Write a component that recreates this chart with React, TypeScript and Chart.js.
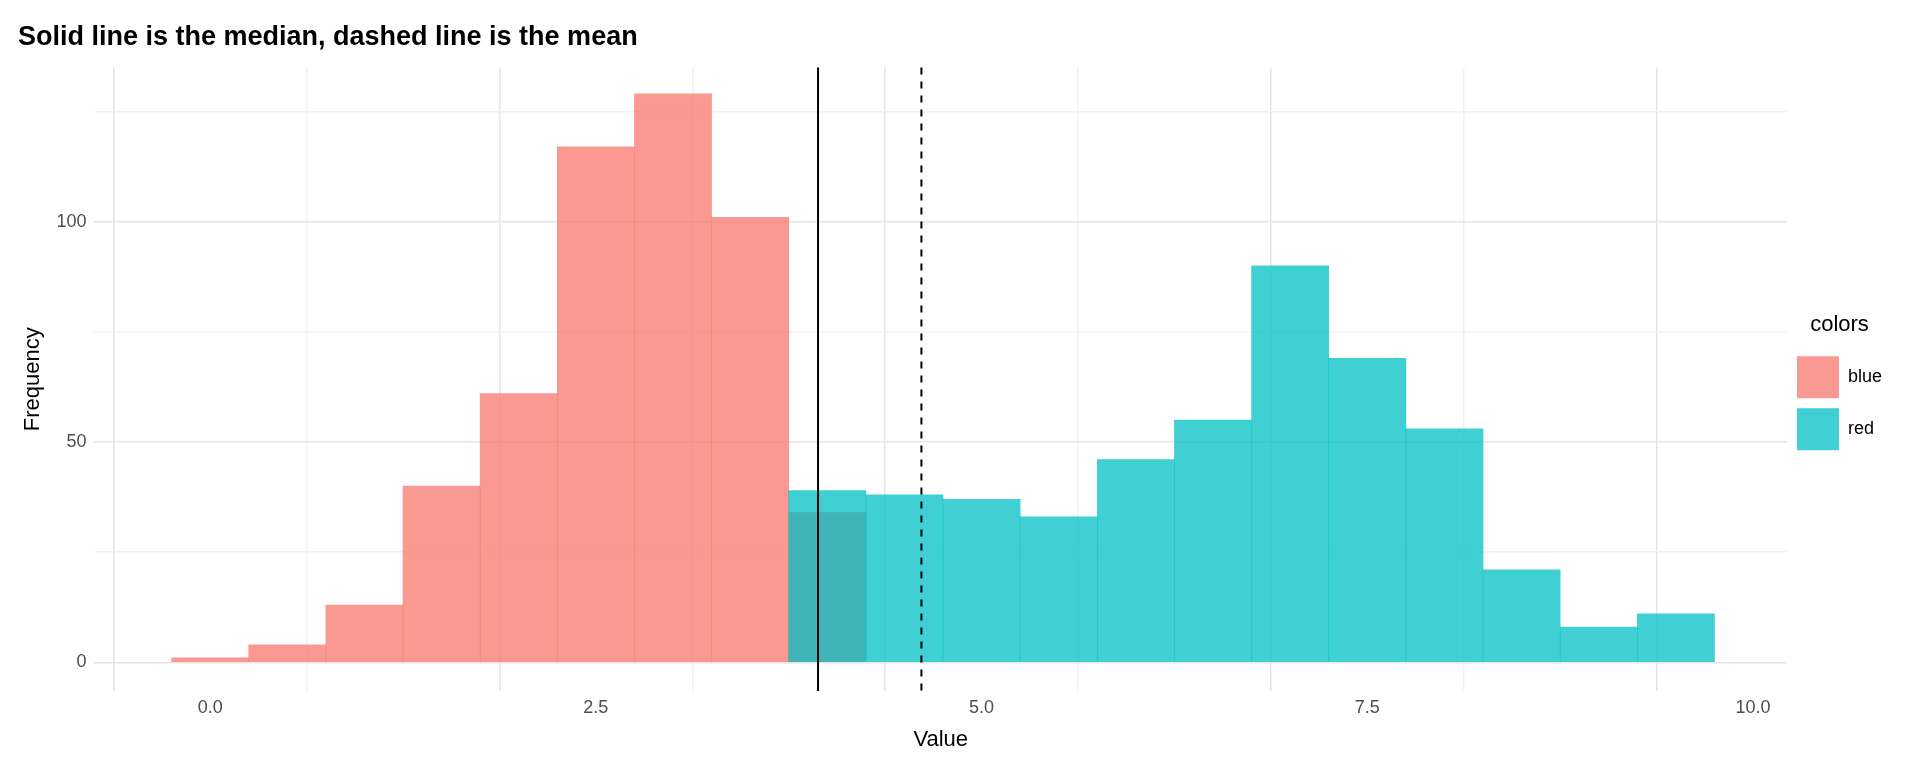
import { useEffect, useRef } from 'react';
import { Chart, registerables } from 'chart.js';

Chart.register(...registerables);

const binCenters = [0, 0.5, 1, 1.5, 2, 2.5, 3, 3.5, 4, 4.5, 5, 5.5, 6, 6.5, 7, 7.5, 8, 8.5, 9, 9.5];
const blueCounts = [1, 4, 13, 40, 61, 117, 129, 101, 34, null, null, null, null, null, null, null, null, null, null, null];
const redCounts = [null, null, null, null, null, null, null, null, 39, 38, 37, 33, 46, 55, 90, 69, 53, 21, 8, 11];
const medianValue = 3.94;
const meanValue = 4.61;

const refLines = {
	id: 'refLines',
	afterDatasetsDraw(chart: Chart) {
		const { ctx, chartArea, scales } = chart;
		const draw = (v: number, dash: number[]) => {
			const x = scales.x.getPixelForValue(v);
			ctx.save();
			ctx.strokeStyle = '#000';
			ctx.lineWidth = 2;
			ctx.setLineDash(dash);
			ctx.beginPath();
			ctx.moveTo(x, chartArea.top);
			ctx.lineTo(x, chartArea.bottom);
			ctx.stroke();
			ctx.restore();
		};
		draw(medianValue, []);
		draw(meanValue, [7, 7]);
	}
};

export default function App() {
	const canvasRef = useRef<HTMLCanvasElement | null>(null);

	useEffect(() => {
		if (!canvasRef.current) return;
		const toPts = (arr: (number | null)[]) =>
			binCenters.map((x, i) => ({ x, y: arr[i] })).filter(p => p.y !== null);
		const chart = new Chart(canvasRef.current, {
			type: 'bar',
			data: {
				datasets: [
					{
						label: 'blue',
						data: toPts(blueCounts) as any,
						backgroundColor: 'rgba(248,118,109,0.75)',
						order: 1,
						barPercentage: 1,
						categoryPercentage: 1,
						grouped: false
					} as any,
					{
						label: 'red',
						data: toPts(redCounts) as any,
						backgroundColor: 'rgba(0,191,196,0.75)',
						order: 0,
						barPercentage: 1,
						categoryPercentage: 1,
						grouped: false
					} as any
				]
			},
			options: {
				animation: false,
				responsive: true,
				maintainAspectRatio: false,
				layout: { padding: { left: 10, right: 20, top: 5, bottom: 5 } },
				plugins: {
					title: {
						display: true,
						text: 'Solid line is the median, dashed line is the mean',
						align: 'start',
						color: '#000',
						font: { size: 27, family: 'Liberation Sans' },
						padding: { top: 8, bottom: 14 }
					},
					legend: {
						position: 'right',
						title: { display: true, text: 'colors', color: '#000', font: { size: 22, family: 'Liberation Sans' }, padding: 6 },
						labels: {
							boxWidth: 42,
							boxHeight: 42,
							color: '#000',
							font: { size: 18, family: 'Liberation Sans' },
							sort: (a: any, b: any) => a.datasetIndex - b.datasetIndex
						}
					},
					tooltip: { enabled: false }
				},
				scales: {
					x: {
						type: 'linear',
						min: -0.75,
						max: 10.22,
						offset: false,
						border: { display: false },
						grid: {
							color: (c: any) => (Math.abs((c.tick?.value ?? 0) / 2.5 - Math.round((c.tick?.value ?? 0) / 2.5)) < 1e-6 ? '#e5e5e5' : '#f2f2f2'),
							lineWidth: 1.5,
							drawTicks: false
						},
						afterBuildTicks: (axis: any) => {
							const t = [];
							for (let v = 0; v <= 10; v += 1.25) t.push({ value: v });
							axis.ticks = t;
						},
						ticks: {
							autoSkip: false,
							maxRotation: 0,
							color: '#4d4d4d',
							font: { size: 18, family: 'Liberation Sans' },
							padding: 6,
							callback: (v: any) => (Math.abs(v / 2.5 - Math.round(v / 2.5)) < 1e-6 ? Number(v).toFixed(1) : '')
						},
						title: { display: true, text: 'Value', color: '#000', font: { size: 22, family: 'Liberation Sans' }, padding: 2 }
					},
					y: {
						min: -6.5,
						max: 135,
						border: { display: false },
						grid: {
							color: (c: any) => ((c.tick?.value ?? 0) % 50 === 0 ? '#e5e5e5' : '#f2f2f2'),
							lineWidth: 1.5,
							drawTicks: false
						},
						afterBuildTicks: (axis: any) => {
							axis.ticks = [0, 25, 50, 75, 100, 125].map(value => ({ value }));
						},
						ticks: {
							autoSkip: false,
							color: '#4d4d4d',
							font: { size: 18, family: 'Liberation Sans' },
							padding: 8,
							callback: (v: any) => (v % 50 === 0 ? String(v) : '')
						},
						title: { display: true, text: 'Frequency', color: '#000', font: { size: 22, family: 'Liberation Sans' }, padding: 2 }
					}
				}
			},
			plugins: [refLines]
		});
		return () => chart.destroy();
	}, []);

	return (
		<div style={{ width: '1904px', height: '752px', background: '#fff' }}>
			<canvas ref={canvasRef} />
		</div>
	);
}
